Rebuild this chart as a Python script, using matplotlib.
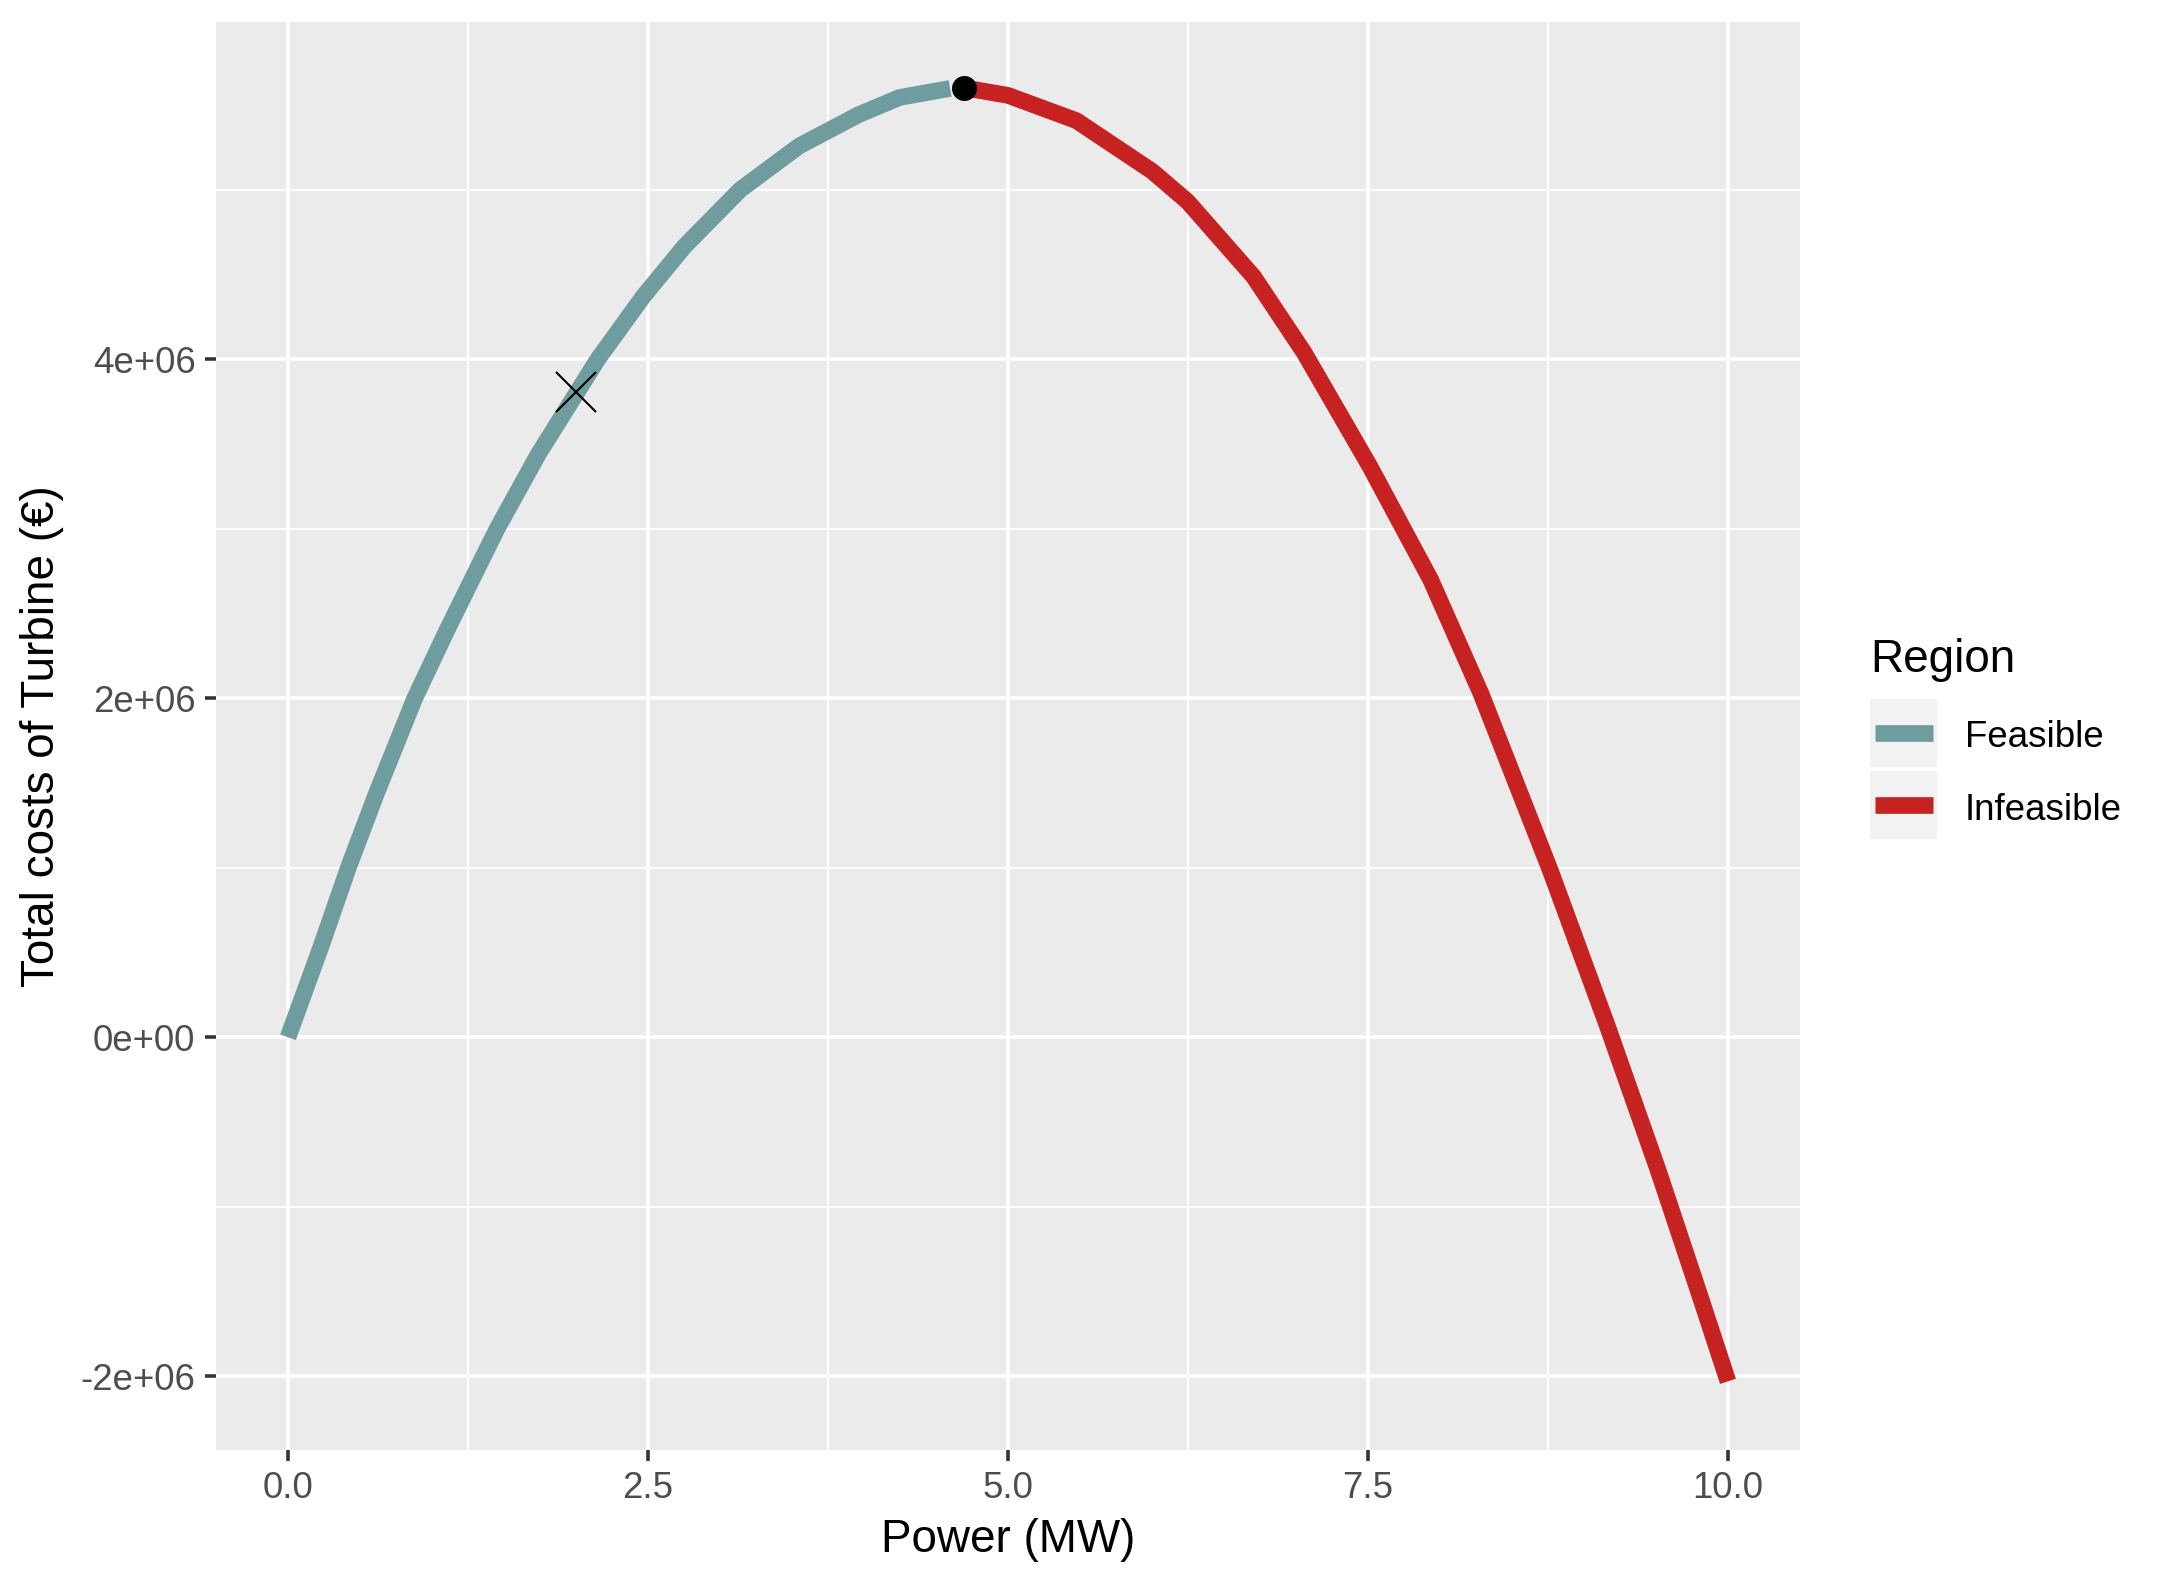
import matplotlib
matplotlib.use("Agg")
import matplotlib.pyplot as plt
from matplotlib.lines import Line2D
from matplotlib.patches import Rectangle

plt.rcParams['font.family'] = ['Liberation Sans', 'DejaVu Sans']

# Values (power in MW, costs in EUR)
feasible_power = [0.0, 0.229, 0.419, 0.610, 0.880, 1.103, 1.309, 1.452, 1.738,
                  2.151, 2.469, 2.755, 3.14, 3.549, 3.962, 4.248, 4.598]
feasible_cost = [0.0, 0.535e6, 1.0e6, 1.43e6, 2.0e6, 2.40e6, 2.755e6, 3.0e6, 3.44e6,
                 4.0e6, 4.373e6, 4.668e6, 5.0e6, 5.258e6, 5.443e6, 5.545e6, 5.598e6]

infeasible_power = [4.694, 5.0, 5.475, 6.002, 6.248, 6.705, 7.056, 7.513, 7.935,
                    8.286, 8.768, 9.165, 9.517, 9.798, 10.0]
infeasible_cost = [5.602e6, 5.557e6, 5.408e6, 5.109e6, 4.93e6, 4.488e6, 4.04e6,
                   3.368e6, 2.70e6, 2.025e6, 0.98e6, 0.06e6, -0.79e6, -1.507e6,
                   -2.03e6]

# highlighted points
optimum_power = [4.694]
optimum_cost = [5.602e6]
current_power = [2.0]
current_cost = [3.81e6]

region_names = ["Feasible", "Infeasible"]
region_colors = ["#6F9C9F", "#C62222"]

x_ticks = [0.0, 2.5, 5.0, 7.5, 10.0]
x_tick_labels = ["0.0", "2.5", "5.0", "7.5", "10.0"]
y_ticks = [-2e6, 0, 2e6, 4e6]
y_tick_labels = ["-2e+06", "0e+00", "2e+06", "4e+06"]

W, H = 2162, 1587
fig = plt.figure(figsize=(W / 300, H / 300), dpi=300)

def fx(px):
    return px / W

def fy(py):
    return 1 - py / H

ax = fig.add_axes([fx(216), fy(1450), (1800 - 216) / W, (1450 - 22) / H])
ax.set_facecolor("#EBEBEB")
for s in ax.spines.values():
    s.set_visible(False)

ax.set_xlim(-0.5, 10.5)
ax.set_ylim(-2.435e6, 5.99e6)

ax.set_xticks(x_ticks)
ax.set_xticklabels(x_tick_labels)
ax.set_yticks(y_ticks)
ax.set_yticklabels(y_tick_labels)
ax.set_xticks([1.25, 3.75, 6.25, 8.75], minor=True)
ax.set_yticks([-1e6, 1e6, 3e6, 5e6], minor=True)

ax.grid(which="major", color="white", linewidth=0.85)
ax.grid(which="minor", color="white", linewidth=0.45)
ax.set_axisbelow(True)

ax.tick_params(which="major", length=2.75, width=0.85, color="#333333",
               labelsize=8.8, labelcolor="#4D4D4D", pad=2.2)
ax.tick_params(which="minor", length=0)

ax.plot(feasible_power, feasible_cost, color=region_colors[0], linewidth=4,
        solid_capstyle="butt", solid_joinstyle="round", zorder=3)
ax.plot(infeasible_power, infeasible_cost, color=region_colors[1], linewidth=4,
        solid_capstyle="butt", solid_joinstyle="round", zorder=3)

ax.plot(optimum_power, optimum_cost, "o", color="black", markersize=5, zorder=4)
ax.plot(current_power, current_cost, "x", color="black", markersize=9.4,
        markeredgewidth=0.5, zorder=4)

ax.set_xlabel("Power (MW)", fontsize=11, labelpad=3)
ax.set_ylabel("Total costs of Turbine (\u20ac)", fontsize=11, labelpad=4)

# legend drawn by hand to match the ggplot guide
fig.text(fx(1870), fy(672), "Region", fontsize=11, ha="left", va="baseline")
key_tops = [699, 771]
label_baselines = [747, 820]
for name, color, top, base in zip(region_names, region_colors, key_tops, label_baselines):
    fig.patches.append(Rectangle((fx(1870), fy(top + 68)), 67 / W, 68 / H,
                                 transform=fig.transFigure, facecolor="#F2F2F2",
                                 edgecolor="none"))
    yc = fy(top + 34)
    fig.lines.append(Line2D([fx(1875), fx(1933)], [yc, yc], transform=fig.transFigure,
                            color=color, linewidth=4, solid_capstyle="butt"))
    fig.text(fx(1965), fy(base), name, fontsize=8.8, ha="left", va="baseline")

fig.savefig("out.png", dpi=300)
